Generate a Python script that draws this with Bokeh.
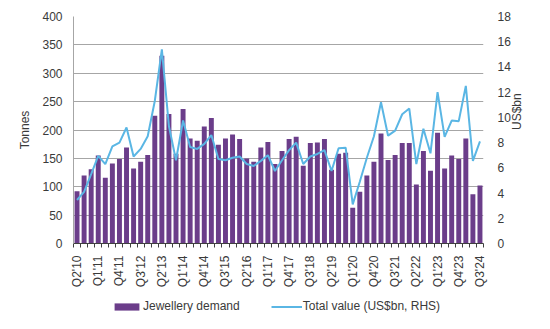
import math
from bokeh.plotting import figure
from bokeh.layouts import column
from bokeh.models import (Range1d, LinearAxis, FixedTicker, Legend, LegendItem,
                          ColumnDataSource)
from bokeh.embed import file_html
from bokeh.resources import INLINE

quarters = []
for yr in range(2010, 2025):
    for q in range(1, 5):
        if (yr == 2010 and q < 2) or (yr == 2024 and q > 3):
            continue
        quarters.append(f"Q{q}'{str(yr)[2:]}")

jewellery_demand = [92, 120, 131, 155, 116, 141, 149, 169, 132, 144, 156, 225, 331, 228,
                    158, 237, 185, 181, 206, 221, 174, 185, 192, 184, 150, 144, 169, 179,
                    140, 163, 184, 188, 137, 177, 178, 184, 130, 158, 160, 63, 91, 120,
                    144, 194, 147, 156, 177, 177, 104, 163, 128, 195, 132, 155, 149, 185,
                    87, 102]
total_value = [3.45, 4.1, 5.5, 6.95, 6.3, 7.7, 8.0, 9.2, 6.9, 7.5, 8.5, 11.3, 15.4, 9.3,
               6.6, 9.75, 7.65, 7.5, 7.9, 8.6, 6.7, 6.6, 6.8, 6.9, 6.3, 6.15, 6.55, 7.0,
               5.75, 6.6, 7.4, 8.0, 6.3, 6.9, 7.1, 7.4, 5.75, 7.55, 7.6, 3.1, 4.9, 6.8,
               8.5, 11.2, 8.55, 8.95, 10.25, 10.7, 6.3, 9.1, 7.15, 12.0, 8.45, 9.75, 9.7,
               12.5, 6.55, 8.1]
label_every = 3

n = len(quarters)
idx = list(range(n))
src = ColumnDataSource(dict(x=idx, q=quarters, d=jewellery_demand, v=total_value))

TEXT = "#3a3a3a"
FONT = "Liberation Sans"
BAR = "#6b3d8a"
LINE = "#5ab6e4"

p = figure(width=550, height=294, output_backend="svg", toolbar_location=None,
           x_range=Range1d(-0.5, n - 0.5), y_range=Range1d(0, 400),
           min_border_left=73, min_border_right=67, min_border_top=16,
           min_border_bottom=51)
p.outline_line_color = None
p.background_fill_color = "white"
p.border_fill_color = "white"
p.extra_y_ranges = {"val": Range1d(0, 18)}

bars = p.vbar(x="x", top="d", width=0.7, source=src, fill_color=BAR,
              line_color=None)
line = p.line(x="x", y="v", source=src, y_range_name="val", line_color=LINE,
              line_width=2)

# x axis
xa = p.xaxis[0]
xa.ticker = FixedTicker(ticks=idx[::label_every],
                        minor_ticks=[i - 0.5 for i in range(n + 1)])
xa.major_label_overrides = {i: quarters[i] for i in idx[::label_every]}
xa.major_label_orientation = math.pi / 2
xa.major_tick_out = 0
xa.major_tick_in = 0
xa.minor_tick_out = 4
xa.minor_tick_in = 0
xa.minor_tick_line_color = "#404040"
xa.axis_line_color = "#404040"
xa.major_label_standoff = 8
xa.major_label_text_font = FONT
xa.major_label_text_font_size = "12px"
xa.major_label_text_color = TEXT

# left axis
ya = p.yaxis[0]
ya.ticker = FixedTicker(ticks=list(range(0, 401, 50)))
ya.axis_line_color = "#a6a6a6"
ya.major_tick_out = 0
ya.major_tick_in = 0
ya.minor_tick_line_color = None
ya.major_label_standoff = 11
ya.major_label_text_font = FONT
ya.major_label_text_font_size = "12px"
ya.major_label_text_color = TEXT
ya.axis_label = "Tonnes"
ya.axis_label_text_font = FONT
ya.axis_label_text_font_size = "12px"
ya.axis_label_text_font_style = "normal"
ya.axis_label_text_color = TEXT
ya.axis_label_standoff = 7

# right axis: tick labels
ra = LinearAxis(y_range_name="val", ticker=FixedTicker(ticks=list(range(0, 19, 2))))
ra.axis_line_color = None
ra.major_tick_out = 0
ra.major_tick_in = 0
ra.minor_tick_line_color = None
ra.major_label_standoff = 14
ra.major_label_text_font = FONT
ra.major_label_text_font_size = "12px"
ra.major_label_text_color = TEXT
p.add_layout(ra, "right")

# right axis title, reading upwards, centred on the plot
rt = LinearAxis(y_range_name="val", ticker=FixedTicker(ticks=[]), bounds=(0, 15.2))
rt.axis_line_color = None
rt.major_tick_out = 0
rt.major_tick_in = 0
rt.minor_tick_line_color = None
rt.major_label_text_font_size = "0px"
rt.major_label_standoff = 0
rt.axis_label = "US$bn"
rt.axis_label_text_font = FONT
rt.axis_label_text_font_size = "12px"
rt.axis_label_text_font_style = "normal"
rt.axis_label_text_color = TEXT
rt.axis_label_standoff = 3
if "axis_label_orientation" in rt.properties():
    rt.axis_label_orientation = math.pi / 2
p.add_layout(rt, "right")

p.xgrid.grid_line_color = None
p.ygrid.grid_line_color = "#a6a6a6"
p.ygrid.grid_line_width = 1.2
p.ygrid.ticker = FixedTicker(ticks=list(range(0, 401, 50)))

# legend strip (renderers share the data, which lies outside the visible range)
lg = figure(width=550, height=35, output_backend="svg", toolbar_location=None,
            x_range=Range1d(-0.5, n - 0.5), y_range=Range1d(1000, 1001),
            x_axis_type=None, y_axis_type=None,
            min_border_left=73, min_border_right=67, min_border_top=0,
            min_border_bottom=0)
lg.outline_line_color = None
lg.xgrid.visible = False
lg.ygrid.visible = False
lg_bar = lg.vbar(x="x", top="d", width=0.7, source=src, fill_color=BAR, line_color=None)
lg_line = lg.line(x="x", y="v", source=src, line_color=LINE, line_width=2)
legend = Legend(items=[LegendItem(label="Jewellery demand", renderers=[lg_bar]),
                       LegendItem(label="Total value (US$bn, RHS)", renderers=[lg_line])],
                location=(38, 16), orientation="horizontal", glyph_width=31,
                glyph_height=9, label_standoff=1, spacing=31, padding=0, margin=0,
                label_height=12, label_text_font=FONT, label_text_font_size="12px",
                label_text_color=TEXT, border_line_alpha=0, background_fill_alpha=0)
lg.add_layout(legend, "center")

layout = column(p, lg, spacing=0)
open("out.html", "w").write(file_html(layout, INLINE))
